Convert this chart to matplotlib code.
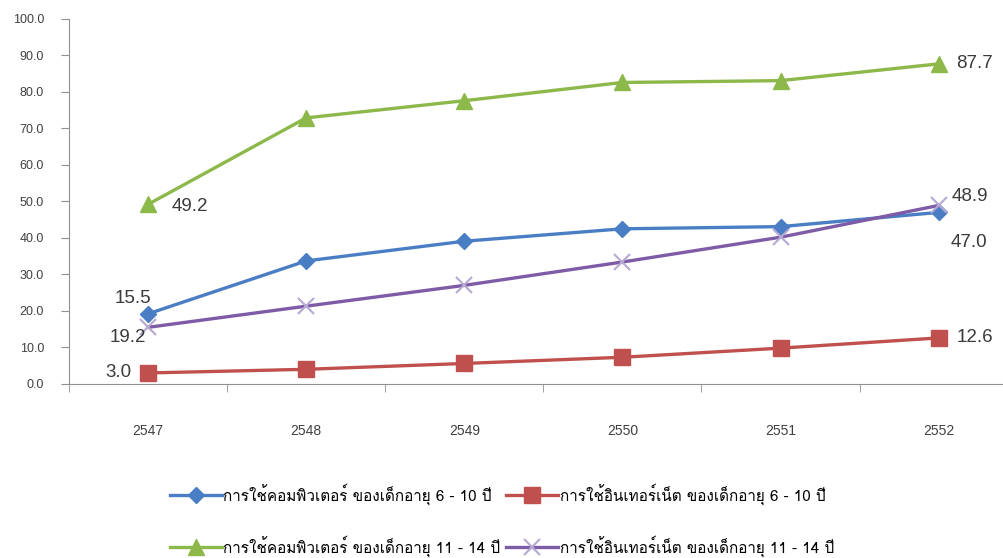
import matplotlib
matplotlib.use('Agg')
import matplotlib.pyplot as plt
from matplotlib import font_manager
from matplotlib.ft2font import FT2Font

years = ['2547', '2548', '2549', '2550', '2551', '2552']
computer_6_10 = [19.2, 33.7, 39.1, 42.5, 43.1, 47.0]
internet_6_10 = [3.0, 4.0, 5.6, 7.3, 9.8, 12.6]
computer_11_14 = [49.2, 72.9, 77.6, 82.6, 83.1, 87.7]
internet_11_14 = [15.5, 21.3, 27.0, 33.4, 40.2, 48.9]

labels = [
    'การใช้คอมพิวเตอร์ ของเด็กอายุ 6 - 10 ปี',
    'การใช้อินเทอร์เน็ต ของเด็กอายุ 6 - 10 ปี',
    'การใช้คอมพิวเตอร์ ของเด็กอายุ 11 - 14 ปี',
    'การใช้อินเทอร์เน็ต ของเด็กอายุ 11 - 14 ปี',
]


def find_thai_font():
    for f in font_manager.fontManager.ttflist:
        try:
            if 0x0E01 in FT2Font(f.fname).get_charmap():
                return f.name
        except Exception:
            pass
    return 'DejaVu Sans'


thai_font = find_thai_font()
plt.rcParams['font.family'] = ['Liberation Sans', thai_font, 'DejaVu Sans']

fig = plt.figure(figsize=(10.04, 5.58), dpi=100)
ax = fig.add_axes([0.0687, 0.312, 0.945, 0.654])

x = list(range(len(years)))
blue, red, green, purple = '#4A7EC4', '#C0504D', '#8DB84A', '#7E5BA6'

l1, = ax.plot(x, computer_6_10, color=blue, lw=2.4, marker='D', ms=8, mfc=blue, mec=blue)
l2, = ax.plot(x, internet_6_10, color=red, lw=2.4, marker='s', ms=11, mfc=red, mec=red)
l3, = ax.plot(x, computer_11_14, color=green, lw=2.4, marker='^', ms=11, mfc=green, mec=green)
l4, = ax.plot(x, internet_11_14, color=purple, lw=2.4, marker='x', ms=11, mec='#B5A8D3', mew=1.5)

# data labels (only first and last points)
lab_kw = dict(textcoords='offset pixels', ha='center', va='center', fontsize=13.5, color='#3A3A3A')
ax.annotate(f'{internet_11_14[0]:.1f}', (0, internet_11_14[0]), xytext=(-15, 29), **lab_kw)
ax.annotate(f'{computer_6_10[0]:.1f}', (0, computer_6_10[0]), xytext=(-20, -24), **lab_kw)
ax.annotate(f'{internet_6_10[0]:.1f}', (0, internet_6_10[0]), xytext=(-30, 0), **lab_kw)
ax.annotate(f'{computer_11_14[0]:.1f}', (0, computer_11_14[0]), xytext=(42, -2), **lab_kw)
ax.annotate(f'{computer_11_14[-1]:.1f}', (5, computer_11_14[-1]), xytext=(36, 0), **lab_kw)
ax.annotate(f'{internet_11_14[-1]:.1f}', (5, internet_11_14[-1]), xytext=(31, 9), **lab_kw)
ax.annotate(f'{computer_6_10[-1]:.1f}', (5, computer_6_10[-1]), xytext=(30, -30), **lab_kw)
ax.annotate(f'{internet_6_10[-1]:.1f}', (5, internet_6_10[-1]), xytext=(36, 0), **lab_kw)

ax.set_xlim(-0.5, 5.5)
ax.set_ylim(0, 100)
ax.set_yticks(range(0, 101, 10))
ax.set_yticklabels([f'{v:.1f}' for v in range(0, 101, 10)])
ax.set_xticks(x)
ax.set_xticklabels(years)
ax.set_xticks([i + 0.5 for i in range(-1, 6)], minor=True)
ax.tick_params(axis='x', which='major', length=0, pad=29, labelsize=10, labelcolor='#404040')
ax.tick_params(axis='x', which='minor', length=6, color='#909090', direction='out')
ax.tick_params(axis='y', length=6, color='#909090', labelsize=9, labelcolor='#404040', pad=12)
for s in ['top', 'right']:
    ax.spines[s].set_visible(False)
ax.spines['left'].set_color('#909090')
ax.spines['bottom'].set_color('#909090')

fig.legend([l1, l3, l2, l4], [labels[0], labels[2], labels[1], labels[3]],
           loc='center', bbox_to_anchor=(0.5, 0.068), ncol=2,
           frameon=False, labelspacing=2.0, columnspacing=0.4, handlelength=3.4,
           handletextpad=0.1, prop={'family': [thai_font, 'DejaVu Sans'], 'size': 11})

fig.savefig('out.png', dpi=100)
